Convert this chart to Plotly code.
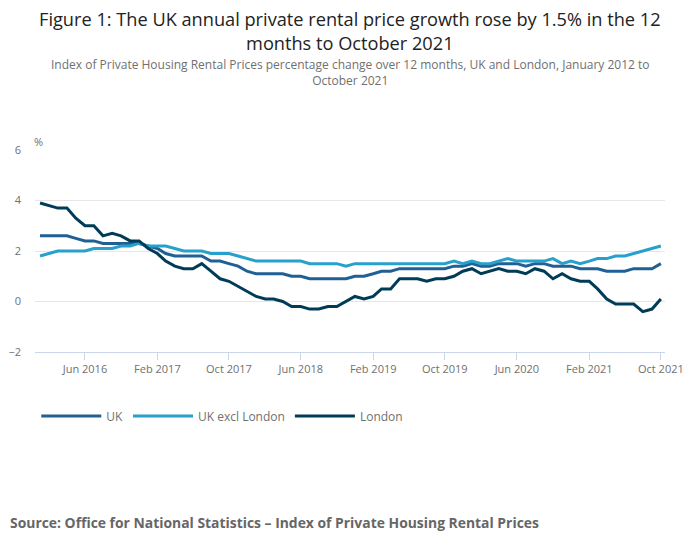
import pandas as pd
import plotly.graph_objects as go

# Monthly observations, January 2016 to October 2021
months = pd.date_range("2016-01-01", "2021-10-01", freq="MS")

uk = [
    2.6, 2.6, 2.6, 2.6, 2.5, 2.4, 2.4, 2.3, 2.3, 2.3, 2.3, 2.3,
    2.2, 2.1, 1.9, 1.8, 1.8, 1.8, 1.8, 1.6, 1.6, 1.5, 1.4, 1.2,
    1.1, 1.1, 1.1, 1.1, 1.0, 1.0, 0.9, 0.9, 0.9, 0.9, 0.9, 1.0,
    1.0, 1.1, 1.2, 1.2, 1.3, 1.3, 1.3, 1.3, 1.3, 1.3, 1.4, 1.4,
    1.5, 1.4, 1.4, 1.5, 1.5, 1.5, 1.4, 1.5, 1.5, 1.4, 1.4, 1.4,
    1.3, 1.3, 1.3, 1.2, 1.2, 1.2, 1.3, 1.3, 1.3, 1.5,
]
uk_excl_london = [
    1.8, 1.9, 2.0, 2.0, 2.0, 2.0, 2.1, 2.1, 2.1, 2.2, 2.2, 2.3,
    2.2, 2.2, 2.2, 2.1, 2.0, 2.0, 2.0, 1.9, 1.9, 1.9, 1.8, 1.7,
    1.6, 1.6, 1.6, 1.6, 1.6, 1.6, 1.5, 1.5, 1.5, 1.5, 1.4, 1.5,
    1.5, 1.5, 1.5, 1.5, 1.5, 1.5, 1.5, 1.5, 1.5, 1.5, 1.6, 1.5,
    1.6, 1.5, 1.5, 1.6, 1.7, 1.6, 1.6, 1.6, 1.6, 1.7, 1.5, 1.6,
    1.5, 1.6, 1.7, 1.7, 1.8, 1.8, 1.9, 2.0, 2.1, 2.2,
]
london = [
    3.9, 3.8, 3.7, 3.7, 3.3, 3.0, 3.0, 2.6, 2.7, 2.6, 2.4, 2.4,
    2.1, 1.9, 1.6, 1.4, 1.3, 1.3, 1.5, 1.2, 0.9, 0.8, 0.6, 0.4,
    0.2, 0.1, 0.1, 0.0, -0.2, -0.2, -0.3, -0.3, -0.2, -0.2, 0.0, 0.2,
    0.1, 0.2, 0.5, 0.5, 0.9, 0.9, 0.9, 0.8, 0.9, 0.9, 1.0, 1.2,
    1.3, 1.1, 1.2, 1.3, 1.2, 1.2, 1.1, 1.3, 1.2, 0.9, 1.1, 0.9,
    0.8, 0.8, 0.5, 0.1, -0.1, -0.1, -0.1, -0.4, -0.3, 0.1,
]

tick_dates = ["2016-06-01", "2017-02-01", "2017-10-01", "2018-06-01", "2019-02-01",
              "2019-10-01", "2020-06-01", "2021-02-01", "2021-10-01"]
tick_labels = ["Jun 2016", "Feb 2017", "Oct 2017", "Jun 2018", "Feb 2019",
               "Oct 2019", "Jun 2020", "Feb 2021", "Oct 2021"]

FONT = "Open Sans"
GREY = "#707070"

fig = go.Figure()
for name, values, colour in [
    ("UK", uk, "#206095"),
    ("UK excl London", uk_excl_london, "#27a0cc"),
    ("London", london, "#003c57"),
]:
    fig.add_trace(
        go.Scatter(
            x=months,
            y=values,
            name=name,
            mode="lines",
            line=dict(color=colour, width=3),
            hovertemplate="%{x|%b %Y}: %{y:.1f}%<extra>" + name + "</extra>",
        )
    )

# the page body has an 8px margin, so the figure is 8px smaller than the window
fig.update_layout(
    width=692,
    height=541,
    paper_bgcolor="white",
    plot_bgcolor="white",
    margin=dict(l=27, r=35, t=142, b=197, autoexpand=False),
    font=dict(family=FONT, color=GREY, size=11),
    legend=dict(
        orientation="h",
        x=0.002,
        xanchor="left",
        y=-0.317,
        yanchor="middle",
        font=dict(family=FONT, size=12, color=GREY),
        itemwidth=60,
    ),
    showlegend=True,
)

fig.update_xaxes(
    type="date",
    range=["2015-12-15", "2021-10-15"],
    tickvals=tick_dates,
    ticktext=tick_labels,
    showgrid=False,
    showline=True,
    linecolor="#ccd6eb",
    linewidth=1,
    ticks="outside",
    ticklen=7,
    tickcolor="#ccd6eb",
    tickfont=dict(size=11, color=GREY),
    automargin=False,
    fixedrange=True,
)
fig.update_yaxes(
    range=[-2, 6],
    tickvals=[-2, 0, 2, 4, 6],
    showgrid=True,
    gridcolor="#e6e6e6",
    zeroline=False,
    showline=False,
    ticklabelstandoff=13,
    tickfont=dict(size=11, color=GREY),
    automargin=False,
    fixedrange=True,
)

fig.add_annotation(
    text="Figure 1: The UK annual private rental price growth rose by 1.5% in the 12<br>months to October 2021",
    xref="paper", yref="paper", x=0.5, y=1 + 145 / 202, xanchor="center", yanchor="top",
    showarrow=False, font=dict(family=FONT, size=18.2, color="#222222"),
)
fig.add_annotation(
    text="Index of Private Housing Rental Prices percentage change over 12 months, UK and London, January 2012 to<br>October 2021",
    xref="paper", yref="paper", x=0.5, y=1 + 96 / 202, xanchor="center", yanchor="top",
    showarrow=False, font=dict(family=FONT, size=12, color=GREY),
)
fig.add_annotation(
    text="%", xref="paper", yref="paper", x=-0.004, y=1.04, xanchor="left", yanchor="middle",
    showarrow=False, font=dict(family=FONT, size=11, color=GREY),
)
fig.add_annotation(
    text="<b>Source: Office for National Statistics – Index of Private Housing Rental Prices</b>",
    xref="paper", yref="paper", x=-0.043, y=-0.842, xanchor="left", yanchor="middle",
    showarrow=False, font=dict(family=FONT, size=13.9, color="#666666"),
)

fig.write_html("out.html")
